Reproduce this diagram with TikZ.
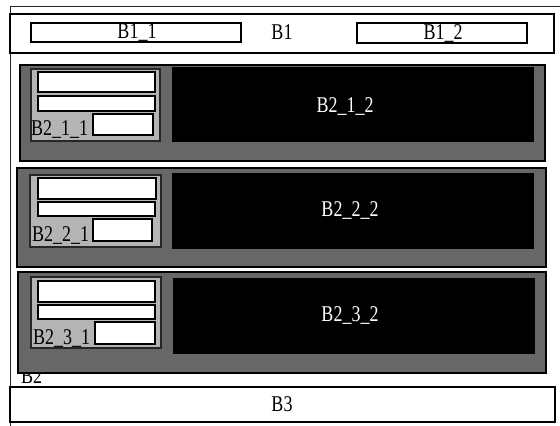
\documentclass[tikz,border=0pt]{standalone}
\usepackage{fontspec}
\setmainfont{Liberation Serif}
\definecolor{panelgray}{HTML}{676767}
\definecolor{subgray}{HTML}{B4B4B4}
\newcommand{\stx}[1]{\scalebox{1}[1.25]{#1}}
\tikzset{
  x=1pt, y=-1pt,
  frameline/.style={draw=black!85, line width=1pt},
  bar/.style={draw=black, line width=1.4pt, fill=white},
  panel/.style={draw=black, line width=1.5pt, fill=panelgray},
  subpanel/.style={draw=black!85, line width=1.5pt, fill=subgray},
  field/.style={draw=black, line width=1.6pt, fill=white},
  screen/.style={draw=black, line width=1pt, fill=black},
  lbl/.style={inner sep=0pt, outer sep=0pt, font=\fontsize{18}{18}\selectfont},
}
\begin{document}
\begin{tikzpicture}
\clip (0,0) rectangle (560,426);
% outer frame
\draw[frameline] (10,440) -- (10,6) -- (570,6);
% B1
\draw[bar] (10,14) rectangle (554,53);
\draw[bar] (31,23) rectangle (241,42);
\draw[bar] (357,23) rectangle (527,43);
\node[lbl, anchor=base] (b11) at (137,38) {\stx{B1\_1}};
\node[lbl, anchor=base] (b1) at (282,39) {\stx{B1}};
\node[lbl, anchor=base] (b12) at (443,39) {\stx{B1\_2}};
% B2 label
\node[lbl, anchor=base west] (b2) at (21,383) {\stx{B2}};
% panel 1
\draw[panel] (20,65) rectangle (545,161);
\draw[subpanel] (31,69) rectangle (160,141);
\draw[field] (38,72) rectangle (155,92);
\draw[field] (38,96) rectangle (155,111);
\draw[field] (93,114) rectangle (153,135);
\node[lbl, anchor=base west] (b211) at (31,135) {\stx{B2\_1\_1}};
\draw[screen] (172,67) rectangle (533,141);
\node[lbl, anchor=base, text=white] (b212) at (345,112) {\stx{B2\_1\_2}};
% panel 2
\draw[panel] (17,168) rectangle (546,267);
\draw[subpanel] (30,175) rectangle (161,247);
\draw[field] (38,178) rectangle (156,199);
\draw[field] (38,202) rectangle (155,216);
\draw[field] (93,219) rectangle (152,241);
\node[lbl, anchor=base west] (b221) at (32,241) {\stx{B2\_2\_1}};
\draw[screen] (172,173) rectangle (533,248);
\node[lbl, anchor=base, text=white] (b222) at (350,216) {\stx{B2\_2\_2}};
% panel 3
\draw[panel] (18,272) rectangle (546,373);
\draw[subpanel] (31,277) rectangle (161,348);
\draw[field] (38,281) rectangle (155,302);
\draw[field] (38,305) rectangle (155,319);
\draw[field] (95,322) rectangle (155,344);
\node[lbl, anchor=base west] (b231) at (33,344) {\stx{B2\_3\_1}};
\draw[screen] (173,278) rectangle (534,353);
\node[lbl, anchor=base, text=white] (b232) at (350,321) {\stx{B2\_3\_2}};
% B3
\draw[bar] (10,387) rectangle (555,422);
\node[lbl, anchor=base] (b3) at (282,411) {\stx{B3}};
\end{tikzpicture}
\end{document}
